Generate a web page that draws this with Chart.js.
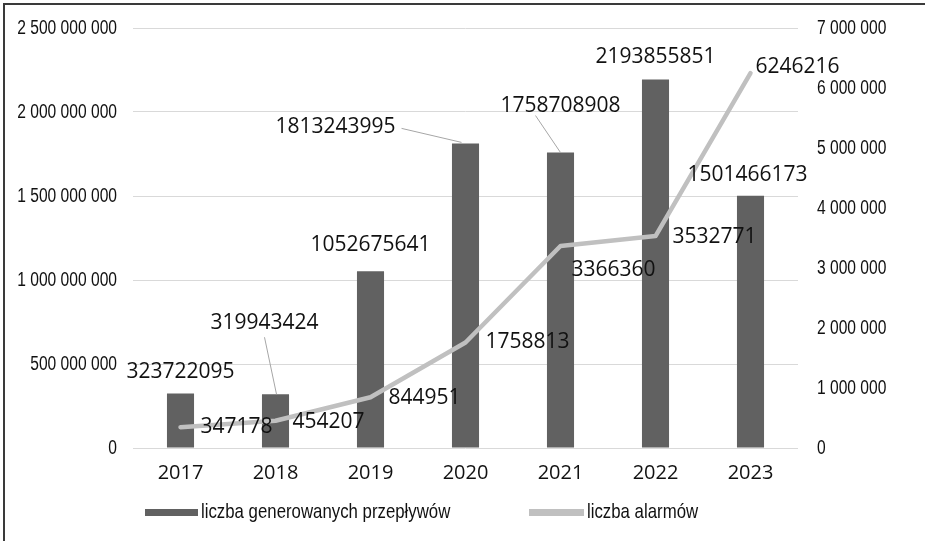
<!DOCTYPE html>
<html>
<head>
<meta charset="utf-8">
<script src="https://cdn.jsdelivr.net/npm/chart.js@4.4.1/dist/chart.umd.min.js"></script>
<style>
  html, body { margin: 0; padding: 0; background: #fff; }
  #wrap { position: relative; width: 925px; height: 541px; }
  canvas { display: block; }
</style>
</head>
<body>
<div id="wrap"><canvas id="c" width="925" height="541"></canvas></div>
<script>
const years = ['2017', '2018', '2019', '2020', '2021', '2022', '2023'];
const flows = [323722095, 319943424, 1052675641, 1813243995, 1758708908, 2193855851, 1501466173];
const alarms = [347178, 454207, 844951, 1758813, 3366360, 3532771, 6246216];
const flowsLabel = 'liczba generowanych przepływów';
const alarmsLabel = 'liczba alarmów';
const leftTicks = [0, 500000000, 1000000000, 1500000000, 2000000000, 2500000000];
const rightTicks = [0, 1000000, 2000000, 3000000, 4000000, 5000000, 6000000, 7000000];

const BAR_COLOR = '#616161';
const LINE_COLOR = '#c0c0c0';
const COND = '"Liberation Sans", Arial, sans-serif';
const COND_SCALE = 0.78;
const LEGEND_SCALE = 0.8;
const REG = '"Open Sans", "Noto Sans", sans-serif';

// label placement styles (offsets relative to element positions)
const barLabelStyle = [
  {dx: 0, dy: -22},
  {dx: -11, dy: -71, leader: true},
  {dx: 0, dy: -26},
  {dx: -130, dy: -16, leader: true, fromRight: true},
  {dx: 0, dy: -47, leader: true, fromLeft: true},
  {dx: 0, dy: -22},
  {dx: -3, dy: -21}
];
const lineLabelStyle = [
  {dx: 20, dy: 0}, {dx: 17, dy: 1}, {dx: 18, dy: 1}, {dx: 20, dy: 0},
  {dx: 11, dy: 24}, {dx: 17, dy: 1}, {dx: 5, dy: -6}
];

function fmtSpace(v) {
  return String(v).replace(/\B(?=(\d{3})+(?!\d))/g, ' ');
}

function condText(ctx, txt, x, y, align, sc) {
  ctx.save();
  ctx.translate(x, y);
  ctx.scale(sc || COND_SCALE, 1);
  ctx.textAlign = align;
  ctx.fillText(txt, 0, 0);
  ctx.restore();
}

const labelPlugin = {
  id: 'labelPlugin',
  afterDraw(chart) {
    const ctx = chart.ctx;
    ctx.save();
    // frame (top + left)
    ctx.strokeStyle = '#3a3a3a';
    ctx.lineWidth = 2;
    ctx.beginPath();
    ctx.moveTo(4, 541);
    ctx.lineTo(4, 4);
    ctx.lineTo(925, 4);
    ctx.stroke();

    // axis tick labels (condensed)
    ctx.font = '20px ' + COND;
    ctx.fillStyle = '#111';
    ctx.textBaseline = 'middle';
    const sy = chart.scales.y;
    sy.ticks.forEach(t => {
      condText(ctx, fmtSpace(t.value), sy.right - 16, sy.getPixelForValue(t.value), 'right');
    });
    const sy1 = chart.scales.y1;
    sy1.ticks.forEach(t => {
      condText(ctx, fmtSpace(t.value), sy1.left + 19, sy1.getPixelForValue(t.value), 'left');
    });

    ctx.font = '21px ' + REG;
    ctx.fillStyle = '#111';

    // bar labels
    const barMeta = chart.getDatasetMeta(0);
    barMeta.data.forEach((el, i) => {
      const st = barLabelStyle[i];
      const txt = String(flows[i]);
      const cx = el.x + st.dx;
      const cy = el.y + st.dy;
      ctx.textAlign = 'center';
      ctx.fillText(txt, cx, cy);
      if (st.leader) {
        const w = ctx.measureText(txt).width;
        ctx.strokeStyle = '#a6a6a6';
        ctx.lineWidth = 1;
        ctx.beginPath();
        if (st.fromRight) {
          ctx.moveTo(cx + w / 2 + 6, cy + 1);
          ctx.lineTo(el.x - 4, el.y - 1);
        } else if (st.fromLeft) {
          ctx.moveTo(cx - 25, cy + 10);
          ctx.lineTo(el.x, el.y);
        } else {
          ctx.moveTo(cx, cy + 14);
          ctx.lineTo(el.x + 1, el.y);
        }
        ctx.stroke();
      }
    });

    // line labels
    const lineMeta = chart.getDatasetMeta(1);
    lineMeta.data.forEach((el, i) => {
      const st = lineLabelStyle[i];
      ctx.textAlign = 'left';
      ctx.fillStyle = '#111';
      ctx.fillText(String(alarms[i]), el.x + st.dx, el.y + st.dy);
    });

    // legend
    ctx.font = '21px ' + COND;
    ctx.fillStyle = BAR_COLOR;
    ctx.fillRect(145, 509, 53, 7);
    ctx.fillStyle = '#111';
    condText(ctx, chart.data.datasets[0].label, 201, 512, 'left', LEGEND_SCALE);
    ctx.fillStyle = LINE_COLOR;
    ctx.fillRect(529, 509, 55, 7);
    ctx.fillStyle = '#111';
    condText(ctx, chart.data.datasets[1].label, 587, 512, 'left', LEGEND_SCALE);
    ctx.restore();
  }
};

new Chart(document.getElementById('c'), {
  type: 'bar',
  data: {
    labels: years,
    datasets: [
      {
        type: 'bar',
        label: flowsLabel,
        data: flows,
        backgroundColor: BAR_COLOR,
        yAxisID: 'y',
        order: 1,
        categoryPercentage: 1.0,
        barPercentage: 0.285
      },
      {
        type: 'line',
        label: alarmsLabel,
        data: alarms,
        borderColor: LINE_COLOR,
        backgroundColor: LINE_COLOR,
        borderWidth: 4.5,
        pointRadius: 0,
        tension: 0,
        borderJoinStyle: 'round',
        borderCapStyle: 'round',
        yAxisID: 'y1',
        order: 0
      }
    ]
  },
  options: {
    responsive: false,
    animation: false,
    devicePixelRatio: 1,
    layout: { padding: { top: 28, left: 0, right: 0, bottom: 0 } },
    plugins: {
      legend: { display: false },
      tooltip: { enabled: false }
    },
    scales: {
      x: {
        grid: { display: false, drawTicks: false },
        border: { display: false },
        ticks: { color: '#111', font: { family: REG, size: 20 }, padding: 13, maxRotation: 0 },
        afterFit(s) { s.height = 93; }
      },
      y: {
        position: 'left',
        min: 0,
        max: 2500000000,
        afterBuildTicks(s) { s.ticks = leftTicks.map(v => ({ value: v })); },
        grid: { color: '#d9d9d9', lineWidth: 1, drawTicks: false },
        border: { display: false },
        ticks: { display: false },
        afterFit(s) { s.width = 133; }
      },
      y1: {
        position: 'right',
        min: 0,
        max: 7000000,
        afterBuildTicks(s) { s.ticks = rightTicks.map(v => ({ value: v })); },
        grid: { display: false, drawTicks: false },
        border: { display: false },
        ticks: { display: false },
        afterFit(s) { s.width = 127; }
      }
    }
  },
  plugins: [labelPlugin]
});
</script>
</body>
</html>
